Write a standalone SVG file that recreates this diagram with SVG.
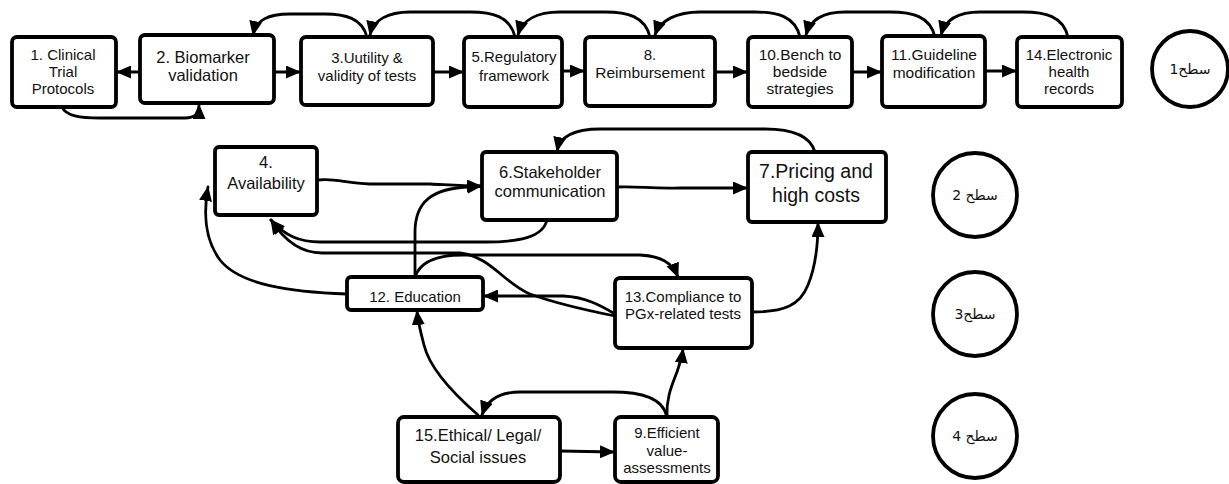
<svg xmlns="http://www.w3.org/2000/svg" width="1229" height="484" viewBox="0 0 1229 484">
<style>
.box{fill:#fff;stroke:#000;stroke-width:3.8;stroke-linejoin:round}
.lv{fill:#fff;stroke:#000;stroke-width:3.8}
.c{fill:none;stroke:#000;stroke-width:2.8;stroke-linecap:round;marker-end:url(#ah)}
text{font-family:"Liberation Sans","DejaVu Sans",sans-serif;font-size:15px;fill:#111;text-anchor:middle}
.ar{font-family:"DejaVu Sans","Noto Sans",sans-serif;font-size:14px}
</style>
<defs>
<marker id="ah" viewBox="0 0 15 13" refX="14" refY="6.5" markerWidth="15" markerHeight="13" markerUnits="userSpaceOnUse" orient="auto">
<path d="M0,0 L15,6.5 L0,13 z" fill="#000"/>
</marker>
</defs>
<g id="connectors">
<path class="c" d="M140,72 L117,72"/>
<path class="c" d="M62,107 C66,116 80,118 100,118 L185,118 C195,118 199,114 199,105"/>
<path class="c" d="M274,72 L300,72"/>
<path class="c" d="M433,72 L463,72"/>
<path class="c" d="M562,71 L584,71"/>
<path class="c" d="M715,72 L747,72"/>
<path class="c" d="M852,72 L881,72"/>
<path class="c" d="M985,71 L1016,71"/>
<path class="c" d="M367,37 C362,18 345,14 325,14 L290,14 C268,14 256,20 253,35"/>
<path class="c" d="M515,37 C510,16 492,12 470,12 L410,12 C388,12 373,20 370,35"/>
<path class="c" d="M650,37 C645,16 627,12 605,12 L560,12 C537,12 522,20 518,35"/>
<path class="c" d="M800,37 C795,16 777,12 755,12 L700,12 C677,12 660,20 655,35"/>
<path class="c" d="M935,37 C930,16 912,12 890,12 L845,12 C822,12 810,20 806,35"/>
<path class="c" d="M1068,37 C1063,16 1045,12 1023,12 L980,12 C957,12 945,20 941,35"/>
<path class="c" d="M318,180 C335,178 345,183 370,184 L430,184 C450,185 462,186 481,186"/>
<path class="c" d="M415,277 L415,232 C415,202 432,188 470,187 L481,186"/>
<path class="c" d="M815,152 C810,135 792,129 765,129 L600,129 C575,129 560,136 557,151"/>
<path class="c" d="M617,187 C640,186 650,189 680,188 L747,188"/>
<path class="c" d="M547,220 C543,237 520,242 485,242 L320,242 C300,242 285,236 271,220"/>
<path class="c" d="M615,316 C595,312 560,305 530,294 C505,284 490,256 460,253 L322,253 C300,253 284,240 271,220"/>
<path class="c" d="M615,314 C600,305 585,297 563,296 L484,296"/>
<path class="c" d="M415,277 C420,262 435,255 462,255 L640,255 C660,256 672,262 678,277"/>
<path class="c" d="M347,294 C290,292 240,285 220,260 C205,240 203,215 208,187"/>
<path class="c" d="M752,312 C785,312 800,305 808,285 C815,268 818,250 818,223"/>
<path class="c" d="M478,415 C455,395 430,370 424,345 C420,330 418,322 417,311"/>
<path class="c" d="M667,417 C663,398 642,392 612,392 L520,392 C500,392 487,400 482,415"/>
<path class="c" d="M560,451 L614,452"/>
<path class="c" d="M667,417 C666,398 672,385 677,372 C680,363 682,357 683,349"/>
</g>
<g id="n1"><rect class="box" x="12" y="37" width="104" height="70" rx="5"/><text x="63" y="60">1. Clinical</text><text x="63" y="77">Trial</text><text x="63" y="94">Protocols</text></g>
<g id="n2"><rect class="box" x="140" y="35" width="134" height="68" rx="5"/><text x="203" y="63" style="font-size:16.5px">2. Biomarker</text><text x="203" y="81" style="font-size:16.5px">validation</text></g>
<g id="n3"><rect class="box" x="301" y="37" width="132" height="68" rx="5"/><text x="367" y="63">3.Uutility &amp;</text><text x="367" y="81">validity of tests</text></g>
<g id="n5"><rect class="box" x="464" y="37" width="98" height="70" rx="5"/><text x="514" y="62">5.Regulatory</text><text x="514" y="81">framework</text></g>
<g id="n8"><rect class="box" x="585" y="37" width="130" height="69" rx="5"/><text x="650" y="60">8.</text><text x="650" y="78" style="font-size:15.5px">Reimbursement</text></g>
<g id="n10"><rect class="box" x="748" y="37" width="104" height="70" rx="5"/><text x="800" y="60" style="font-size:15.5px">10.Bench to</text><text x="800" y="77" style="font-size:15.5px">bedside</text><text x="800" y="94" style="font-size:15.5px">strategies</text></g>
<g id="n11"><rect class="box" x="882" y="36" width="103" height="71" rx="5"/><text x="934" y="60" style="font-size:15.5px">11.Guideline</text><text x="934" y="78" style="font-size:15.5px">modification</text></g>
<g id="n14"><rect class="box" x="1017" y="37" width="105" height="70" rx="5"/><text x="1069" y="60">14.Electronic</text><text x="1069" y="77">health</text><text x="1069" y="94">records</text></g>
<g id="n4"><rect class="box" x="215" y="147" width="102" height="68" rx="4"/><text x="266" y="168" style="font-size:16.5px">4.</text><text x="266" y="189" style="font-size:16.5px">Availability</text></g>
<g id="n6"><rect class="box" x="482" y="152" width="135" height="68" rx="4"/><text x="550" y="178" style="font-size:16.5px">6.Stakeholder</text><text x="550" y="197" style="font-size:16.5px">communication</text></g>
<g id="n7"><rect class="box" x="748" y="152" width="138" height="70" rx="4"/><text x="816" y="178" style="font-size:19.5px">7.Pricing and</text><text x="816" y="202" style="font-size:19.5px">high costs</text></g>
<g id="n12"><rect class="box" x="347" y="277" width="136" height="33" rx="4"/><text x="415" y="302">12. Education</text></g>
<g id="n13"><rect class="box" x="615" y="278" width="137" height="70" rx="5"/><text x="683" y="302">13.Compliance to</text><text x="683" y="319">PGx-related tests</text></g>
<g id="n15"><rect class="box" x="398" y="417" width="162" height="65" rx="6"/><text x="478" y="441" style="font-size:16.5px">15.Ethical/ Legal/</text><text x="478" y="463" style="font-size:16.5px">Social issues</text></g>
<g id="n9"><rect class="box" x="615" y="417" width="103" height="65" rx="6"/><text x="667" y="438">9.Efficient</text><text x="667" y="456">value-</text><text x="667" y="473">assessments</text></g>
<g id="level1"><circle class="lv" cx="1190" cy="69" r="38"/><text class="ar" x="1190" y="74">سطح1</text></g>
<g id="level2"><circle class="lv" cx="975" cy="195" r="42"/><text class="ar" x="975" y="200">سطح 2</text></g>
<g id="level3"><circle class="lv" cx="975" cy="314" r="42"/><text class="ar" x="975" y="319">سطح3</text></g>
<g id="level4"><circle class="lv" cx="975" cy="436" r="42"/><text class="ar" x="975" y="441">سطح 4</text></g>
</svg>
